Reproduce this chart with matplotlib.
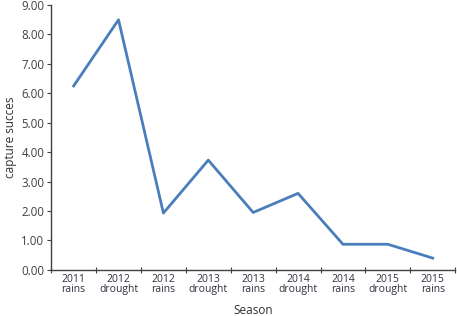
import matplotlib
matplotlib.use("AGG")
import matplotlib.pyplot as plt
import numpy as np

seasons = ["2011\nrains", "2012\ndrought", "2012\nrains", "2013\ndrought", "2013\nrains",
           "2014\ndrought", "2014\nrains", "2015\ndrought", "2015\nrains"]
capture = [6.25, 8.5, 1.93, 3.73, 1.95, 2.6, 0.87, 0.87, 0.4]

plt.rcParams["font.family"] = ["Open Sans", "DejaVu Sans"]

fig = plt.figure(figsize=(4.57, 3.16), dpi=100)
ax = fig.add_axes([0.112, 0.146, 0.884, 0.838])

x = np.arange(len(seasons))
ax.plot(x, capture, color="#4a7ebb", lw=2.0)

ax.set_xlim(-0.5, len(seasons) - 0.5)
ax.set_ylim(0, 9)
ax.set_yticks(np.arange(0, 10, 1))
ax.set_yticklabels(["%.2f" % v for v in np.arange(0, 10, 1)], fontsize=8.3, color="#404040")
ax.set_xticks(np.arange(-0.5, len(seasons), 1))
ax.set_xticklabels([])
ax.set_xticks(x, minor=True)
ax.set_xticklabels(seasons, minor=True, fontsize=7.5, color="#303040", linespacing=0.9)
ax.tick_params(axis="x", which="minor", length=0, pad=3)
ax.tick_params(axis="x", which="major", length=4, direction="inout", color="#404040")
ax.tick_params(axis="y", length=3, color="#404040", pad=2)

for s in ["top", "right"]:
    ax.spines[s].set_visible(False)
for s in ["left", "bottom"]:
    ax.spines[s].set_color("#404040")
    ax.spines[s].set_linewidth(1.0)

ax.set_xlabel("Season", fontsize=8.5, color="#303030", labelpad=6)
ax.set_ylabel("capture succes", fontsize=8.5, color="#303030", labelpad=3)

fig.savefig("out.png", dpi=100)
